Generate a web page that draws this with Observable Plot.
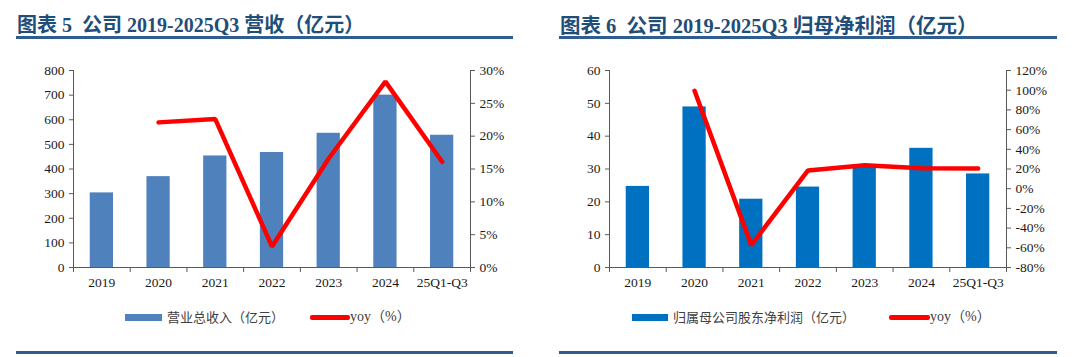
<!DOCTYPE html>
<html>
<head>
<meta charset="utf-8">
<script src="https://cdn.jsdelivr.net/npm/d3@7"></script>
<script src="https://cdn.jsdelivr.net/npm/@observablehq/plot@0.6"></script>
<style>
  html, body { margin: 0; padding: 0; background: #fff; }
  #root { position: relative; width: 1080px; height: 357px; overflow: hidden; background: #fff; }
  .title { position: absolute; top: 9px; font-family: "Liberation Serif", "Noto Sans CJK SC", serif; font-weight: bold; font-size: 20px; color: #1F4E79; white-space: nowrap; }
  .rule { position: absolute; height: 2.5px; background: #2E5D8E; }
  .chart { position: absolute; top: 50px; }
  .legend { position: absolute; top: 308px; height: 18px; font-family: "Noto Sans CJK SC", sans-serif; font-size: 13px; color: #404040; white-space: nowrap; }
  .sw { position: absolute; }
  .lt { position: absolute; top: 0; line-height: 18px; }
  .yoy { font-family: "Liberation Serif", "Noto Sans CJK SC", serif; font-size: 14px; }
</style>
</head>
<body>
<div id="root">
  <div class="title" style="left:17px">图表 5&nbsp; 公司 2019-2025Q3 营收（亿元）</div>
  <div class="rule" style="left:16px; width:497px; top:36px"></div>
  <div class="rule" style="left:16px; width:497px; top:351px"></div>
  <div class="title" style="left:560px; font-size:20.5px">图表 6&nbsp; 公司 2019-2025Q3 归母净利润（亿元）</div>
  <div class="rule" style="left:559px; width:498px; top:36px"></div>
  <div class="rule" style="left:559px; width:498px; top:351px"></div>
  <div id="c1" class="chart" style="left:0px"></div>
  <div id="c2" class="chart" style="left:540px"></div>

  <div class="legend" style="left:0; width:540px">
    <div class="sw" style="left:125px; top:6px; width:37px; height:7px; background:#4F81BD"></div>
    <div class="lt" style="left:167px">营业总收入（亿元）</div>
    <div class="sw" style="left:310px; top:7px; width:40px; height:4.5px; border-radius:2px; background:#FF0000"></div>
    <div class="lt yoy" style="left:350px">yoy（%）</div>
  </div>
  <div class="legend" style="left:540px; width:540px">
    <div class="sw" style="left:92px; top:6px; width:36px; height:7px; background:#0070C0"></div>
    <div class="lt" style="left:133px">归属母公司股东净利润（亿元）</div>
    <div class="sw" style="left:349px; top:7px; width:41px; height:4.5px; border-radius:2px; background:#FF0000"></div>
    <div class="lt yoy" style="left:390px">yoy（%）</div>
  </div>
</div>
<script>
// ---- Data ----
const categories = ["2019", "2020", "2021", "2022", "2023", "2024", "25Q1-Q3"];
const revenue = [303, 369, 453, 467, 545, 700, 537];            // 亿元
const revenueYoy = [null, 22.1, 22.6, 3.2, 16.6, 28.3, 16.1];  // %
const netProfit = [24.7, 48.9, 20.8, 24.5, 30.5, 36.3, 28.5];  // 亿元
const netProfitYoy = [null, 99.4, -57.3, 18.5, 23.9, 20.8, 20.5]; // %

const revenueTicks = [0, 100, 200, 300, 400, 500, 600, 700, 800];
const revenueYoyTicks = [0, 5, 10, 15, 20, 25, 30];
const profitTicks = [0, 10, 20, 30, 40, 50, 60];
const profitYoyTicks = [-80, -60, -40, -20, 0, 20, 40, 60, 80, 100, 120];

function makeChart({values, yoy, leftTicks, rightTicks, barColor, marginLeft, marginRight}) {
  const yMax = leftTicks[leftTicks.length - 1];
  const pMin = rightTicks[0], pMax = rightTicks[rightTicks.length - 1];
  const toLeft = p => (p - pMin) / (pMax - pMin) * yMax;
  const toPct = v => v / yMax * (pMax - pMin) + pMin;
  const n = categories.length;
  const bars = categories.map((c, i) => ({cat: c, x1: i + 0.295, x2: i + 0.705, value: values[i]}));
  const line = categories.map((c, i) => ({cat: c, x: i + 0.5, y: yoy[i] == null ? null : toLeft(yoy[i])}))
    .filter(d => d.y != null);
  const axisColor = "#595959";
  return Plot.plot({
    width: 540,
    height: 250,
    marginTop: 20,
    marginBottom: 33,
    marginLeft,
    marginRight,
    x: {domain: [0, n], axis: null},
    y: {domain: [0, yMax], axis: null},
    style: {fontFamily: "'Liberation Serif', 'Times New Roman', serif", fontSize: "13.5px", color: "#1a1a1a", background: "transparent"},
    marks: [
      Plot.rectY(bars, {x1: "x1", x2: "x2", y: "value", fill: barColor}),
      Plot.line(line, {x: "x", y: "y", stroke: "#FF0000", strokeWidth: 4.5, strokeLinejoin: "miter", strokeLinecap: "round"}),
      Plot.ruleX([0], {stroke: axisColor, strokeWidth: 1}),
      Plot.ruleX([n], {stroke: axisColor, strokeWidth: 1}),
      Plot.ruleY([0], {stroke: axisColor, strokeWidth: 1}),
      Plot.axisY({anchor: "left", ticks: leftTicks, tickSize: 4, tickPadding: 5, stroke: axisColor, strokeOpacity: 1}),
      Plot.axisY({anchor: "right", ticks: rightTicks.map(toLeft), tickSize: 4, tickPadding: 5,
        tickFormat: v => Math.round(toPct(v)) + "%", stroke: axisColor, strokeOpacity: 1}),
      Plot.axisX({ticks: d3.range(0, n + 1), tickSize: 5, tickFormat: () => "", stroke: axisColor, strokeOpacity: 1}),
      Plot.axisX({ticks: categories.map((c, i) => i + 0.5), tickSize: 0, tickPadding: 10,
        tickFormat: v => categories[Math.floor(v)]})
    ]
  });
}

document.getElementById("c1").appendChild(makeChart({
  values: revenue, yoy: revenueYoy, leftTicks: revenueTicks, rightTicks: revenueYoyTicks,
  barColor: "#4F81BD", marginLeft: 73, marginRight: 70
}));
document.getElementById("c2").appendChild(makeChart({
  values: netProfit, yoy: netProfitYoy, leftTicks: profitTicks, rightTicks: profitYoyTicks,
  barColor: "#0070C0", marginLeft: 69, marginRight: 74
}));
</script>
</body>
</html>
